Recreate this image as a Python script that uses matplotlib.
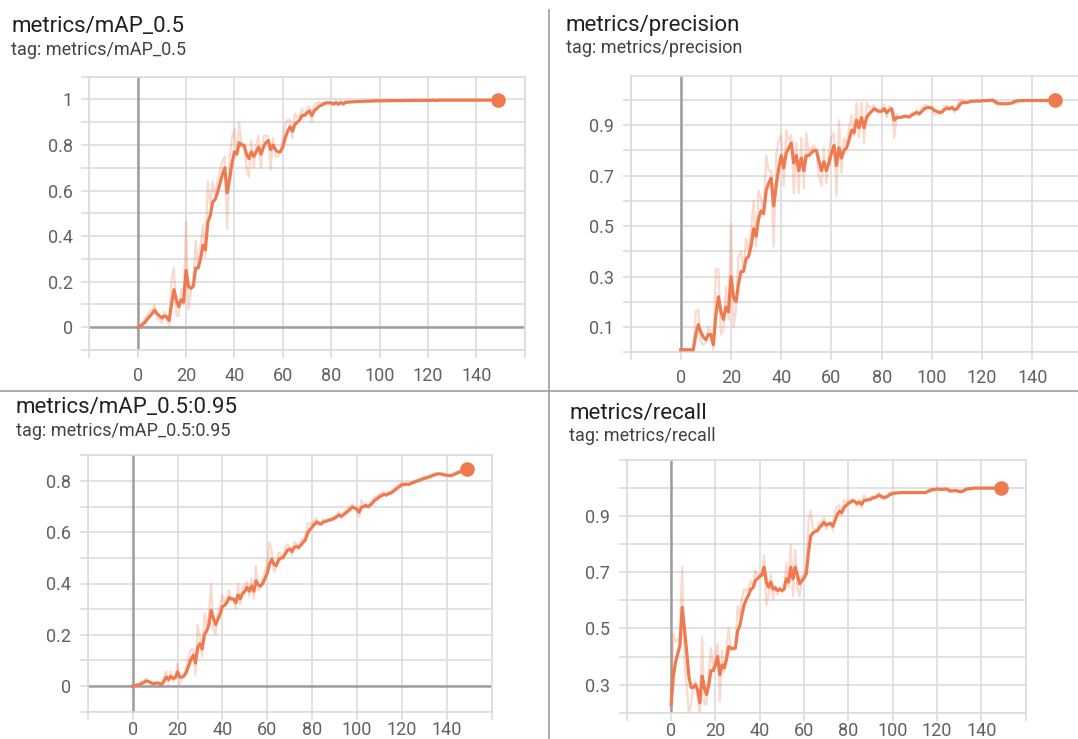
import numpy as np
import matplotlib
matplotlib.use('Agg')
import matplotlib.pyplot as plt
from matplotlib.lines import Line2D
from matplotlib.ticker import FixedLocator, FuncFormatter

plt.rcParams['font.family'] = ['Roboto', 'DejaVu Sans']

epochs = np.arange(150)

# metrics/mAP_0.5
map50_smooth = [
    0.000, 0.005, 0.012, 0.022, 0.035, 0.048, 0.060, 0.075, 0.060, 0.050,
    0.040, 0.050, 0.045, 0.030, 0.100, 0.165, 0.120, 0.090, 0.120, 0.110,
    0.250, 0.180, 0.170, 0.180, 0.260, 0.260, 0.300, 0.360, 0.340, 0.460,
    0.490, 0.550, 0.560, 0.590, 0.630, 0.670, 0.700, 0.590, 0.650, 0.720,
    0.770, 0.760, 0.810, 0.800, 0.800, 0.760, 0.740, 0.770, 0.750, 0.770,
    0.790, 0.760, 0.790, 0.810, 0.820, 0.780, 0.800, 0.780, 0.770, 0.770,
    0.790, 0.830, 0.860, 0.880, 0.860, 0.890, 0.900, 0.910, 0.930, 0.930,
    0.940, 0.950, 0.930, 0.950, 0.960, 0.970, 0.975, 0.980, 0.985, 0.985,
    0.985, 0.980, 0.986, 0.980, 0.986, 0.981, 0.987, 0.988, 0.989, 0.990,
    0.990, 0.991, 0.991, 0.992, 0.992, 0.993, 0.993, 0.993, 0.994, 0.994,
    0.994, 0.994, 0.995, 0.994, 0.995, 0.995, 0.995, 0.995, 0.995, 0.995,
    0.995, 0.996, 0.995, 0.996, 0.996, 0.996, 0.996, 0.996, 0.996, 0.996,
    0.996, 0.996, 0.997, 0.996, 0.996, 0.997, 0.997, 0.997, 0.997, 0.997,
    0.997, 0.997, 0.997, 0.997, 0.997, 0.997, 0.997, 0.997, 0.997, 0.997,
    0.997, 0.997, 0.997, 0.997, 0.997, 0.997, 0.997, 0.997, 0.997, 0.997,
]
map50_raw = [
    0.00, 0.01, 0.02, 0.04, 0.05, 0.07, 0.08, 0.10, 0.04, 0.03,
    0.02, 0.07, 0.04, 0.01, 0.21, 0.26, 0.05, 0.05, 0.17, 0.10,
    0.46, 0.08, 0.16, 0.20, 0.38, 0.26, 0.36, 0.45, 0.31, 0.64,
    0.54, 0.64, 0.58, 0.64, 0.69, 0.73, 0.75, 0.43, 0.74, 0.83,
    0.87, 0.75, 0.90, 0.79, 0.80, 0.70, 0.66, 0.82, 0.70, 0.80,
    0.84, 0.70, 0.84, 0.84, 0.84, 0.69, 0.83, 0.75, 0.75, 0.77,
    0.82, 0.89, 0.91, 0.91, 0.83, 0.94, 0.92, 0.93, 0.96, 0.93,
    0.96, 0.97, 0.90, 0.98, 0.98, 0.99, 0.98, 0.99, 0.99, 0.985,
    0.985, 0.973, 0.995, 0.971, 0.995, 0.974, 0.996, 0.990, 0.990, 0.992,
    0.990, 0.993, 0.991, 0.994, 0.992, 0.995, 0.993, 0.993, 0.996, 0.994,
    0.994, 0.994, 0.996, 0.993, 0.996, 0.995, 0.995, 0.995, 0.995, 0.995,
    0.995, 0.997, 0.994, 0.997, 0.996, 0.996, 0.996, 0.996, 0.996, 0.996,
    0.996, 0.996, 0.998, 0.995, 0.996, 0.998, 0.997, 0.997, 0.997, 0.997,
    0.997, 0.997, 0.997, 0.997, 0.997, 0.997, 0.997, 0.997, 0.997, 0.997,
    0.997, 0.997, 0.997, 0.997, 0.997, 0.997, 0.997, 0.997, 0.997, 0.997,
]

# metrics/precision
prec_smooth = [
    0.010, 0.010, 0.010, 0.010, 0.010, 0.010, 0.070, 0.110, 0.080, 0.060,
    0.050, 0.070, 0.070, 0.030, 0.150, 0.220, 0.160, 0.130, 0.180, 0.160,
    0.300, 0.220, 0.200, 0.270, 0.320, 0.320, 0.370, 0.380, 0.420, 0.490,
    0.460, 0.530, 0.560, 0.550, 0.640, 0.670, 0.690, 0.580, 0.660, 0.730,
    0.780, 0.730, 0.790, 0.810, 0.830, 0.750, 0.780, 0.720, 0.770, 0.720,
    0.780, 0.780, 0.790, 0.800, 0.800, 0.760, 0.720, 0.755, 0.720, 0.750,
    0.790, 0.820, 0.740, 0.810, 0.770, 0.800, 0.810, 0.840, 0.880, 0.870,
    0.920, 0.890, 0.930, 0.890, 0.930, 0.945, 0.955, 0.965, 0.960, 0.955,
    0.955, 0.965, 0.950, 0.960, 0.965, 0.920, 0.930, 0.930, 0.932, 0.935,
    0.935, 0.932, 0.940, 0.945, 0.950, 0.945, 0.955, 0.965, 0.970, 0.970,
    0.968, 0.958, 0.955, 0.950, 0.952, 0.962, 0.968, 0.965, 0.970, 0.962,
    0.965, 0.980, 0.990, 0.990, 0.990, 0.993, 0.995, 0.995, 0.996, 0.995,
    0.997, 0.997, 0.998, 0.998, 1.000, 0.995, 0.988, 0.986, 0.985, 0.985,
    0.985, 0.986, 0.988, 0.993, 0.996, 0.997, 0.997, 0.998, 0.998, 0.998,
    0.998, 0.998, 0.998, 0.998, 0.998, 0.998, 0.998, 0.998, 0.998, 0.998,
]
prec_raw = [
    0.01, 0.01, 0.01, 0.01, 0.01, 0.01, 0.16, 0.17, 0.04, 0.03,
    0.04, 0.10, 0.07, 0.01, 0.33, 0.33, 0.07, 0.09, 0.26, 0.13,
    0.51, 0.10, 0.17, 0.38, 0.40, 0.32, 0.45, 0.40, 0.48, 0.60,
    0.42, 0.64, 0.61, 0.54, 0.78, 0.72, 0.72, 0.42, 0.78, 0.84,
    0.86, 0.66, 0.88, 0.84, 0.86, 0.63, 0.83, 0.63, 0.85, 0.65,
    0.87, 0.78, 0.81, 0.82, 0.80, 0.70, 0.66, 0.81, 0.67, 0.80,
    0.85, 0.87, 0.62, 0.92, 0.71, 0.85, 0.83, 0.89, 0.94, 0.86,
    0.99, 0.85, 0.99, 0.83, 0.99, 0.97, 0.97, 0.98, 0.95, 0.95,
    0.955, 0.98, 0.93, 0.975, 0.97, 0.85, 0.945, 0.93, 0.935, 0.94,
    0.935, 0.93, 0.95, 0.95, 0.96, 0.94, 0.97, 0.98, 0.98, 0.97,
    0.965, 0.94, 0.95, 0.945, 0.955, 0.977, 0.977, 0.96, 0.978, 0.95,
    0.97, 1.00, 1.00, 0.99, 0.99, 0.997, 0.998, 0.995, 0.997, 0.994,
    1.00, 0.997, 0.999, 0.998, 1.00, 0.988, 0.978, 0.983, 0.984, 0.985,
    0.985, 0.988, 0.991, 1.00, 1.00, 0.998, 0.997, 0.999, 0.998, 0.998,
    0.998, 0.998, 0.998, 0.998, 0.998, 0.998, 0.998, 0.998, 0.998, 0.998,
]

# metrics/mAP_0.5:0.95
map5095_smooth = [
    0.000, 0.002, 0.004, 0.006, 0.010, 0.014, 0.020, 0.018, 0.014, 0.010,
    0.010, 0.012, 0.010, 0.006, 0.020, 0.035, 0.025, 0.038, 0.030, 0.032,
    0.055, 0.035, 0.035, 0.040, 0.055, 0.080, 0.105, 0.120, 0.090, 0.150,
    0.165, 0.145, 0.200, 0.215, 0.240, 0.295, 0.265, 0.240, 0.260, 0.280,
    0.310, 0.315, 0.325, 0.345, 0.340, 0.340, 0.325, 0.355, 0.340, 0.360,
    0.370, 0.385, 0.370, 0.390, 0.370, 0.410, 0.395, 0.390, 0.400, 0.420,
    0.440, 0.475, 0.495, 0.475, 0.470, 0.490, 0.500, 0.500, 0.515, 0.530,
    0.535, 0.525, 0.540, 0.545, 0.540, 0.550, 0.560, 0.570, 0.595, 0.610,
    0.620, 0.630, 0.640, 0.635, 0.632, 0.640, 0.642, 0.645, 0.648, 0.650,
    0.655, 0.660, 0.668, 0.662, 0.668, 0.675, 0.682, 0.690, 0.698, 0.695,
    0.690, 0.678, 0.697, 0.700, 0.704, 0.700, 0.706, 0.715, 0.725, 0.730,
    0.738, 0.742, 0.748, 0.745, 0.750, 0.752, 0.758, 0.765, 0.772, 0.778,
    0.785, 0.786, 0.788, 0.786, 0.790, 0.793, 0.797, 0.800, 0.803, 0.806,
    0.810, 0.812, 0.815, 0.818, 0.822, 0.825, 0.827, 0.828, 0.826, 0.824,
    0.822, 0.821, 0.821, 0.824, 0.828, 0.832, 0.835, 0.838, 0.842, 0.845,
]
map5095_raw = [
    0.000, 0.005, 0.007, 0.009, 0.016, 0.020, 0.029, 0.015, 0.008, 0.004,
    0.010, 0.015, 0.007, 0.000, 0.041, 0.058, 0.010, 0.058, 0.018, 0.035,
    0.090, 0.005, 0.035, 0.048, 0.078, 0.118, 0.143, 0.143, 0.045, 0.240,
    0.188, 0.115, 0.283, 0.238, 0.278, 0.400, 0.220, 0.203, 0.290, 0.310,
    0.355, 0.323, 0.340, 0.375, 0.333, 0.340, 0.303, 0.400, 0.318, 0.390,
    0.385, 0.408, 0.348, 0.420, 0.340, 0.470, 0.373, 0.383, 0.415, 0.450,
    0.470, 0.560, 0.525, 0.445, 0.463, 0.520, 0.515, 0.500, 0.538, 0.553,
    0.543, 0.510, 0.563, 0.553, 0.533, 0.565, 0.575, 0.585, 0.633, 0.633,
    0.635, 0.645, 0.655, 0.628, 0.628, 0.652, 0.645, 0.650, 0.653, 0.653,
    0.663, 0.668, 0.680, 0.653, 0.677, 0.686, 0.693, 0.702, 0.710, 0.690,
    0.683, 0.660, 0.726, 0.705, 0.710, 0.694, 0.715, 0.729, 0.740, 0.738,
    0.750, 0.748, 0.757, 0.740, 0.758, 0.755, 0.767, 0.776, 0.783, 0.787,
    0.796, 0.788, 0.791, 0.783, 0.796, 0.798, 0.803, 0.805, 0.808, 0.811,
    0.816, 0.815, 0.820, 0.823, 0.828, 0.830, 0.830, 0.830, 0.823, 0.821,
    0.819, 0.820, 0.821, 0.829, 0.834, 0.838, 0.840, 0.843, 0.848, 0.850,
]

# metrics/recall
recall_smooth = [
    0.230, 0.330, 0.380, 0.410, 0.440, 0.575, 0.500, 0.420, 0.330, 0.290,
    0.290, 0.300, 0.280, 0.235, 0.330, 0.290, 0.265, 0.300, 0.350, 0.350,
    0.370, 0.400, 0.335, 0.370, 0.360, 0.390, 0.435, 0.430, 0.428, 0.430,
    0.490, 0.510, 0.550, 0.585, 0.605, 0.620, 0.640, 0.645, 0.670, 0.678,
    0.685, 0.690, 0.718, 0.665, 0.647, 0.665, 0.640, 0.645, 0.635, 0.640,
    0.635, 0.640, 0.677, 0.665, 0.718, 0.677, 0.718, 0.690, 0.659, 0.670,
    0.680, 0.695, 0.770, 0.830, 0.840, 0.845, 0.848, 0.860, 0.868, 0.878,
    0.868, 0.872, 0.874, 0.864, 0.885, 0.905, 0.918, 0.912, 0.930, 0.938,
    0.945, 0.950, 0.955, 0.952, 0.945, 0.950, 0.942, 0.955, 0.957, 0.958,
    0.960, 0.965, 0.966, 0.970, 0.975, 0.970, 0.966, 0.968, 0.972, 0.978,
    0.980, 0.982, 0.983, 0.983, 0.984, 0.984, 0.984, 0.984, 0.984, 0.984,
    0.984, 0.984, 0.984, 0.984, 0.984, 0.984, 0.988, 0.992, 0.994, 0.995,
    0.997, 0.996, 0.995, 0.996, 0.997, 0.994, 0.990, 0.990, 0.991, 0.990,
    0.988, 0.987, 0.990, 0.995, 0.997, 0.998, 0.999, 1.000, 1.000, 1.000,
    1.000, 1.000, 1.000, 1.000, 1.000, 1.000, 1.000, 1.000, 1.000, 1.000,
]
recall_raw = [
    0.23, 0.48, 0.455, 0.455, 0.485, 0.72, 0.39, 0.30, 0.20, 0.23,
    0.29, 0.315, 0.25, 0.19, 0.47, 0.23, 0.23, 0.35, 0.43, 0.35,
    0.40, 0.445, 0.24, 0.42, 0.345, 0.435, 0.50, 0.42, 0.425, 0.433,
    0.58, 0.54, 0.61, 0.64, 0.635, 0.643, 0.67, 0.653, 0.708, 0.69,
    0.695, 0.698, 0.76, 0.585, 0.62, 0.692, 0.602, 0.653, 0.62, 0.648,
    0.627, 0.648, 0.733, 0.647, 0.798, 0.615, 0.78, 0.648, 0.612, 0.687,
    0.695, 0.718, 0.883, 0.92, 0.855, 0.853, 0.853, 0.878, 0.88, 0.893,
    0.853, 0.878, 0.877, 0.849, 0.917, 0.935, 0.938, 0.903, 0.957, 0.95,
    0.955, 0.958, 0.962, 0.948, 0.935, 0.957, 0.93, 0.975, 0.96, 0.96,
    0.963, 0.972, 0.968, 0.976, 0.982, 0.963, 0.96, 0.971, 0.978, 0.987,
    0.983, 0.985, 0.984, 0.983, 0.985, 0.984, 0.984, 0.984, 0.984, 0.984,
    0.984, 0.984, 0.984, 0.984, 0.984, 0.984, 0.994, 0.998, 0.997, 0.996,
    1.00, 0.995, 0.993, 0.997, 0.998, 0.99, 0.984, 0.99, 0.992, 0.988,
    0.985, 0.985, 0.994, 1.00, 1.00, 1.00, 1.00, 1.00, 1.00, 1.00,
    1.00, 1.00, 1.00, 1.00, 1.00, 1.00, 1.00, 1.00, 1.00, 1.00,
]

W, H = 1078, 739
LINE = '#ef7a4f'
GRID = '#dcdcdc'
AXIS = '#9e9e9e'

fig = plt.figure(figsize=(W / 100, H / 100), dpi=100)
fig.patch.set_facecolor('white')


def px_rect(left, top, right, bottom):
    return [left / W, 1 - bottom / H, (right - left) / W, (bottom - top) / H]


def panel(rect, raw, smooth, ylim, ylabels, zero_h, xpad=6):
    ax = fig.add_axes(px_rect(*rect))
    ax.set_xlim(-20, 160)
    ax.set_ylim(*ylim)
    ax.set_axisbelow(True)

    ax.xaxis.set_major_locator(FixedLocator(list(range(0, 141, 20))))
    ax.xaxis.set_minor_locator(FixedLocator([-20, 160]))
    grid_y = np.round(np.arange(ylim[0], ylim[1] + 0.001, 0.1), 2)
    minor_y = [v for v in grid_y if not np.any(np.isclose(v, ylabels))]
    ax.yaxis.set_major_locator(FixedLocator(ylabels))
    ax.yaxis.set_minor_locator(FixedLocator(minor_y))
    ax.yaxis.set_major_formatter(FuncFormatter(lambda v, p: f'{v:g}'))

    ax.grid(True, which='both', color=GRID, lw=1.2)
    ax.tick_params(which='both', length=6, width=1.2, color=GRID,
                   labelcolor='#616161', labelsize=13, pad=6)
    ax.tick_params(axis='x', which='both', pad=xpad)
    for s in ax.spines.values():
        s.set_color(GRID)
        s.set_linewidth(1.2)

    ax.axvline(0, color=AXIS, lw=1.8, zorder=1.5)
    if zero_h:
        ax.axhline(0, color=AXIS, lw=1.8, zorder=1.5)

    ax.plot(epochs, raw, color=LINE, alpha=0.28, lw=1.6, zorder=2)
    ax.plot(epochs, smooth, color=LINE, lw=2.3, zorder=3, solid_joinstyle='round')
    ax.plot(epochs[-1], smooth[-1], 'o', color=LINE, ms=9.5, zorder=4)
    return ax


def header(x, base_t, base_s, name):
    fig.text(x / W, 1 - base_t / H, name, fontsize=16, color='#212121', va='baseline')
    fig.text(x / W, 1 - base_s / H, 'tag: ' + name, fontsize=13, color='#424242', va='baseline')


panel((89.3, 76.7, 524.6, 350.0), map50_raw, map50_smooth, (-0.1, 1.1),
      [0, 0.2, 0.4, 0.6, 0.8, 1.0], True)
panel((630.5, 76.0, 1082.6, 352.3), prec_raw, prec_smooth, (0.0, 1.095),
      [0.1, 0.3, 0.5, 0.7, 0.9], False)
panel((87.8, 455.3, 491.5, 711.7), map5095_raw, map5095_smooth, (-0.1, 0.9),
      [0, 0.2, 0.4, 0.6, 0.8], True, xpad=1)
panel((626.8, 460.0, 1025.6, 712.7), recall_raw, recall_smooth, (0.2, 1.1),
      [0.3, 0.5, 0.7, 0.9], False, xpad=1)

header(11.4, 32.3, 55.0, 'metrics/mAP_0.5')
header(565.7, 30.7, 53.3, 'metrics/precision')
header(15.5, 413.3, 435.7, 'metrics/mAP_0.5:0.95')
header(569.2, 419.3, 440.7, 'metrics/recall')

# panel separators
fig.add_artist(Line2D([549 / W, 549 / W], [0, 1 - 10 / H], color='#9e9e9e', lw=1.2))
fig.add_artist(Line2D([0, 1], [1 - 390.5 / H, 1 - 390.5 / H], color='#9e9e9e', lw=1.2))

fig.savefig('out.png', dpi=100)
